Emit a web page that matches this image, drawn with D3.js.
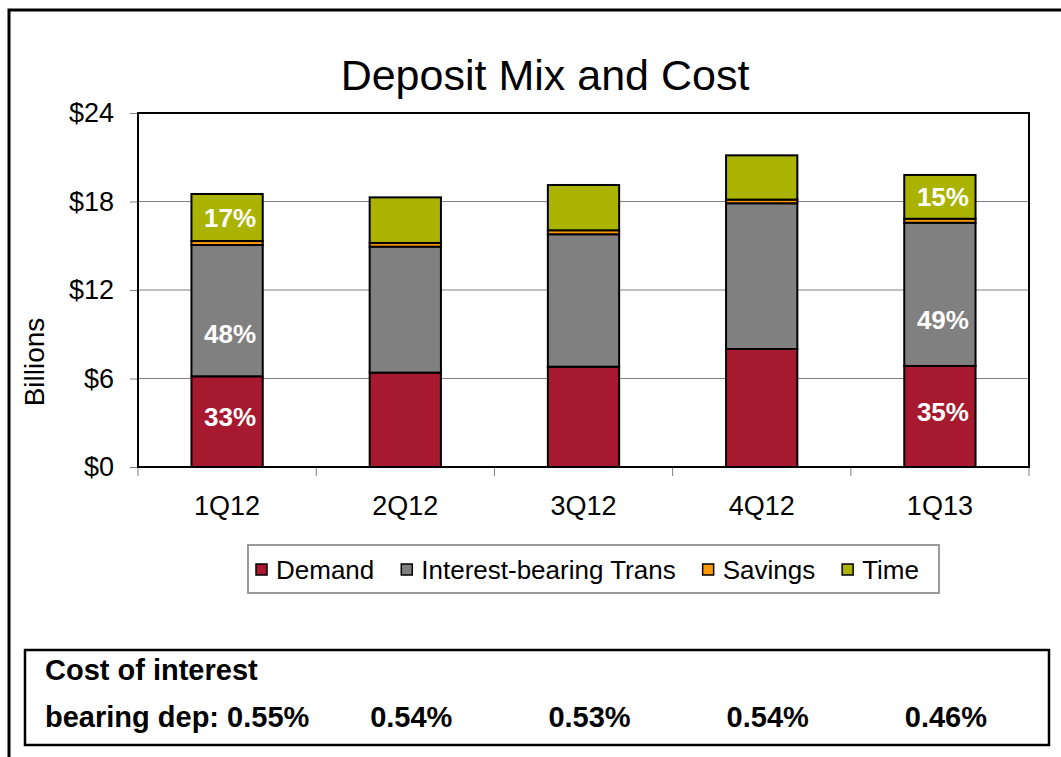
<!DOCTYPE html>
<html>
<head>
<meta charset="utf-8">
<script src="https://cdn.jsdelivr.net/npm/d3@7"></script>
<style>
  html, body { margin: 0; padding: 0; background: #fff; }
  svg { display: block; font-family: "Liberation Sans", Arial, sans-serif; }
</style>
</head>
<body>
<svg id="chart" width="1061" height="757"></svg>
<script>
// Quarterly deposit balances, $ billions
const categories = ["1Q12", "2Q12", "3Q12", "4Q12", "1Q13"];
const demand = [6.15, 6.40, 6.80, 8.00, 6.85];
const interestTrans = [8.90, 8.54, 8.98, 9.88, 9.71];
const savings = [0.27, 0.25, 0.27, 0.25, 0.27];
const time = [3.19, 3.09, 3.07, 3.00, 2.97];

const seriesNames = ["Demand", "Interest-bearing Trans", "Savings", "Time"];
const seriesColors = ["#A6192E", "#808080", "#FF9900", "#A9B300"];
const yTicks = [0, 6, 12, 18, 24];
const yTickLabels = ["$0", "$6", "$12", "$18", "$24"];

// Share-of-total labels are shown on the first and last quarter only
const labeledCategories = ["1Q12", "1Q13"];
const labeledSeries = ["Demand", "Interest-bearing Trans", "Time"];

// Cost of interest-bearing deposits per quarter
const costValues = ["0.55%", "0.54%", "0.53%", "0.54%", "0.46%"];

const rows = categories.map((c, i) => ({
  quarter: c,
  "Demand": demand[i],
  "Interest-bearing Trans": interestTrans[i],
  "Savings": savings[i],
  "Time": time[i]
}));

const svg = d3.select("#chart");
const plot = { left: 138, right: 1029, top: 113, bottom: 467 };

const x = d3.scaleBand()
  .domain(categories)
  .range([plot.left, plot.right])
  .paddingInner(0.6)
  .paddingOuter(0.3);

const y = d3.scaleLinear().domain([0, 24]).range([plot.bottom, plot.top]);
const color = d3.scaleOrdinal().domain(seriesNames).range(seriesColors);

// Outer frame
svg.append("rect")
  .attr("x", 9).attr("y", 10).attr("width", 1120).attr("height", 820)
  .attr("fill", "none").attr("stroke", "#000").attr("stroke-width", 3);

// Title
svg.append("text")
  .attr("x", 545).attr("y", 90)
  .attr("text-anchor", "middle")
  .attr("font-size", 43)
  .text("Deposit Mix and Cost");

// Gridlines
svg.append("g")
  .selectAll("line")
  .data(yTicks.filter(t => t > 0 && t < 24))
  .join("line")
  .attr("x1", plot.left).attr("x2", plot.right)
  .attr("y1", d => y(d)).attr("y2", d => y(d))
  .attr("stroke", "#808080").attr("stroke-width", 1);

// Y axis
const yAxis = d3.axisLeft(y)
  .tickValues(yTicks)
  .tickFormat((d, i) => yTickLabels[i])
  .tickSize(8)
  .tickPadding(16);
const yg = svg.append("g").attr("transform", `translate(${plot.left},0)`).call(yAxis);
yg.select(".domain").remove();
yg.selectAll(".tick line").attr("stroke", "#808080");
yg.selectAll(".tick text")
  .attr("font-size", 27)
  .attr("font-family", "Liberation Sans, Arial, sans-serif")
  .attr("fill", "#000");

// X axis: ticks at category boundaries
const bounds = categories.map((c, i) => plot.left + i * x.step()).concat([plot.right]);
svg.append("g")
  .selectAll("line")
  .data(bounds)
  .join("line")
  .attr("x1", d => d).attr("x2", d => d)
  .attr("y1", plot.bottom).attr("y2", plot.bottom + 9)
  .attr("stroke", "#808080");

svg.append("g")
  .selectAll("text")
  .data(categories)
  .join("text")
  .attr("x", d => x(d) + x.bandwidth() / 2)
  .attr("y", 515)
  .attr("text-anchor", "middle")
  .attr("font-size", 27)
  .text(d => d);

// Y axis title
svg.append("text")
  .attr("transform", "translate(44,362) rotate(-90)")
  .attr("text-anchor", "middle")
  .attr("font-size", 28)
  .text("Billions");

// Stacked bars
const stacked = d3.stack().keys(seriesNames)(rows);
const layers = svg.append("g")
  .selectAll("g")
  .data(stacked)
  .join("g")
  .attr("fill", d => color(d.key));

layers.selectAll("rect")
  .data(d => d)
  .join("rect")
  .attr("x", d => x(d.data.quarter))
  .attr("width", x.bandwidth())
  .attr("y", d => y(d[1]))
  .attr("height", d => y(d[0]) - y(d[1]))
  .attr("stroke", "#000")
  .attr("stroke-width", 2);

// Plot area border
svg.append("rect")
  .attr("x", plot.left).attr("y", plot.top)
  .attr("width", plot.right - plot.left).attr("height", plot.bottom - plot.top)
  .attr("fill", "none").attr("stroke", "#000").attr("stroke-width", 2);

// Share labels inside segments
const labelPos = { "Demand": 0.55, "Interest-bearing Trans": 0.32, "Time": 0.5 };
const labelData = [];
stacked.forEach(layer => {
  if (!labeledSeries.includes(layer.key)) return;
  layer.forEach(seg => {
    if (!labeledCategories.includes(seg.data.quarter)) return;
    const total = seriesNames.reduce((s, k) => s + seg.data[k], 0);
    const v = seg[1] - seg[0];
    labelData.push({
      quarter: seg.data.quarter,
      mid: seg[0] + v * labelPos[layer.key],
      text: Math.round(v / total * 100) + "%"
    });
  });
});
svg.append("g")
  .selectAll("text")
  .data(labelData)
  .join("text")
  .attr("x", d => x(d.quarter) + x.bandwidth() / 2 + 3)
  .attr("y", d => y(d.mid))
  .attr("dy", "0.35em")
  .attr("text-anchor", "middle")
  .attr("font-size", 26)
  .attr("font-weight", "bold")
  .attr("fill", "#fff")
  .text(d => d.text);

// Legend
const legend = svg.append("g");
const legendBox = legend.append("rect")
  .attr("y", 545).attr("height", 48)
  .attr("fill", "#fff").attr("stroke", "#9a9a9a").attr("stroke-width", 2);
const legendGap = 27;
let lx = 256;
seriesNames.forEach(name => {
  legend.append("rect")
    .attr("x", lx).attr("y", 564).attr("width", 11).attr("height", 11)
    .attr("fill", color(name)).attr("stroke", "#000").attr("stroke-width", 1.5);
  const t = legend.append("text")
    .attr("x", lx + 20).attr("y", 579)
    .attr("font-size", 26)
    .text(name);
  lx += 20 + t.node().getComputedTextLength() + legendGap;
});
legendBox.attr("x", 248).attr("width", lx - legendGap + 20 - 248);

// Cost table
svg.append("rect")
  .attr("x", 25).attr("y", 650).attr("width", 1024).attr("height", 95)
  .attr("fill", "none").attr("stroke", "#000").attr("stroke-width", 2.5);

const table = svg.append("g").attr("font-size", 29).attr("font-weight", "bold");
table.append("text").attr("x", 45).attr("y", 680).text("Cost of interest");
table.append("text").attr("x", 45).attr("y", 727).text("bearing dep: " + costValues[0]);
table.selectAll("text.val")
  .data(categories.slice(1).map((c, i) => ({ c, v: costValues[i + 1] })))
  .join("text")
  .attr("class", "val")
  .attr("x", d => x(d.c) + x.bandwidth() / 2 + 6)
  .attr("y", 727)
  .attr("text-anchor", "middle")
  .text(d => d.v);
</script>
</body>
</html>
